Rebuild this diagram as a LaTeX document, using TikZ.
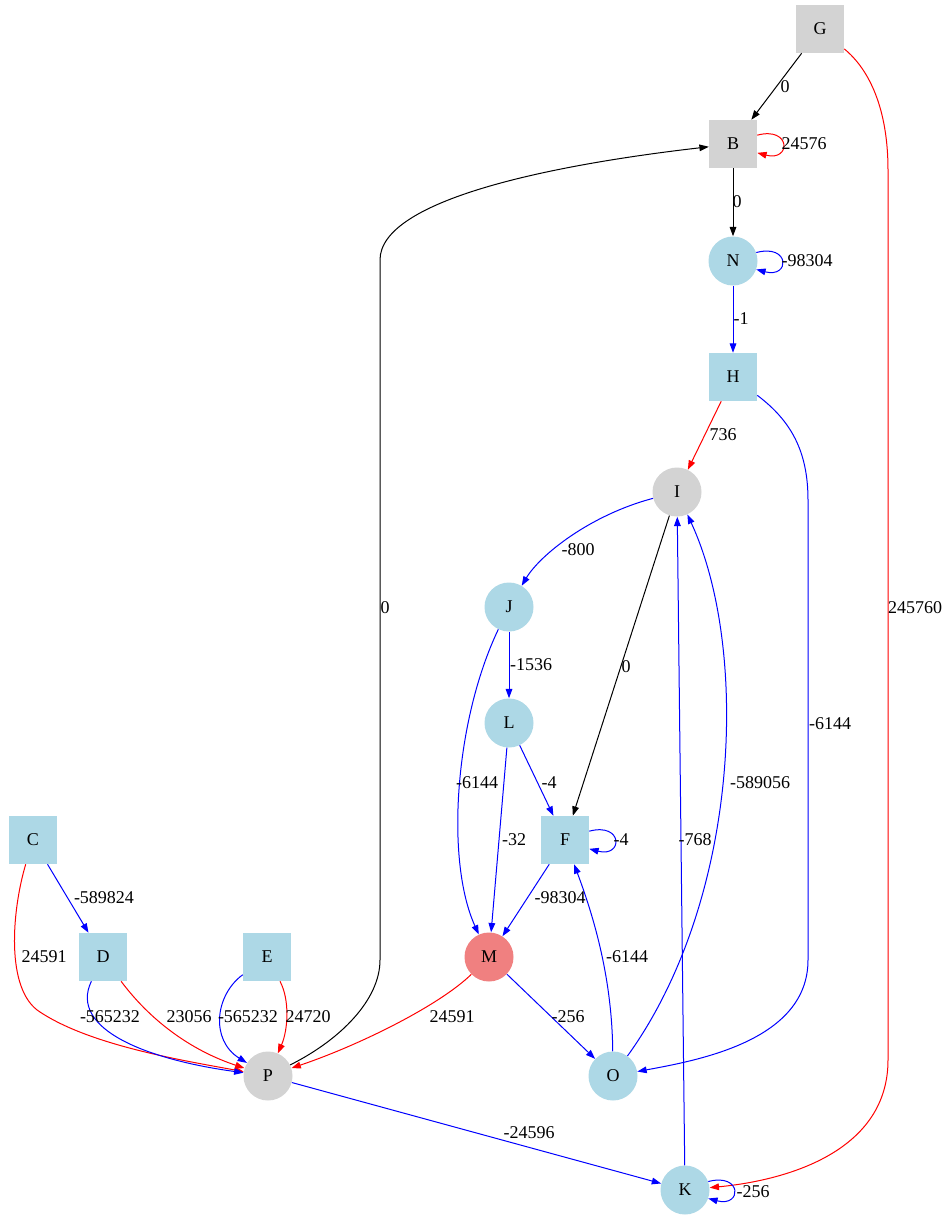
\documentclass[tikz,border=0pt]{standalone}
\usepackage{fontspec}
\setmainfont{Liberation Serif}
\usepackage{tikz}
\usetikzlibrary{arrows.meta}

\definecolor{nblue}{RGB}{173,216,230}
\definecolor{ngray}{RGB}{211,211,211}
\definecolor{ncoral}{RGB}{240,128,128}

\tikzset{
    sq/.style={rectangle, minimum size=36pt, inner sep=0pt, font=\fontsize{13.5}{16}\selectfont},
    rd/.style={circle, minimum size=36.75pt, inner sep=0pt, font=\fontsize{13.5}{16}\selectfont},
    lbl/.style={inner sep=0pt, font=\fontsize{13.5}{16}\selectfont},
    edge/.style={line width=0.75pt, -{Triangle[length=7pt,width=5pt]}},
    bedge/.style={edge, blue},
    redge/.style={edge, red},
    kedge/.style={edge, black}
}

\begin{document}
\begin{tikzpicture}[x=0.75pt, y=-0.75pt]
    \useasboundingbox (0,0) rectangle (949,1221);
    \fill[white] (0,0) rectangle (949,1221);

    \node[sq, fill=ngray] (G) at (820,29) {G};
    \node[sq, fill=ngray] (B) at (733,144) {B};
    \node[rd, fill=nblue] (N) at (733,261) {N};
    \node[sq, fill=nblue] (H) at (733,377) {H};
    \node[rd, fill=ngray] (I) at (677,492) {I};
    \node[rd, fill=nblue] (J) at (509,607) {J};
    \node[rd, fill=nblue] (L) at (509,723) {L};
    \node[sq, fill=nblue] (F) at (565,840) {F};
    \node[sq, fill=nblue] (C) at (33,840) {C};
    \node[sq, fill=nblue] (D) at (103,957) {D};
    \node[sq, fill=nblue] (E) at (267,957) {E};
    \node[rd, fill=ncoral] (M) at (489,957) {M};
    \node[rd, fill=ngray] (P) at (268,1076) {P};
    \node[rd, fill=nblue] (O) at (613,1076) {O};
    \node[rd, fill=nblue] (K) at (685,1190) {K};

    \draw[kedge] (G) -- (B);
    \draw[redge] (G) .. controls (870,70) and (888,110) .. (888,170) -- (888,1060) .. controls (888,1150) and (790,1180) .. (K);
    \draw[redge] (B.20) .. controls +(34,-9) and +(34,9) .. (B.-20);
    \draw[kedge] (B) -- (N);
    \draw[bedge] (N.20) .. controls +(34,-9) and +(34,9) .. (N.-20);
    \draw[bedge] (N) -- (H);
    \draw[redge] (H) -- (I);
    \draw[bedge] (H) .. controls (790,420) and (808,450) .. (808,500) -- (808,960) .. controls (808,1040) and (700,1060) .. (O);
    \draw[bedge] (I) .. controls (590,515) and (540,555) .. (J);
    \draw[kedge] (I) -- (F);
    \draw[bedge] (J) -- (L);
    \draw[bedge] (J) .. controls (455,720) and (445,860) .. (M);
    \draw[bedge] (L) -- (F);
    \draw[bedge] (L) -- (M);
    \draw[bedge] (F.20) .. controls +(34,-9) and +(34,9) .. (F.-20);
    \draw[bedge] (F) -- (M);
    \draw[bedge] (O) .. controls (612,980) and (595,920) .. (F);
    \draw[bedge] (O) .. controls (740,900) and (750,650) .. (I);
    \draw[bedge] (K) -- (I);
    \draw[bedge] (K.20) .. controls +(34,-9) and +(34,9) .. (K.-20);
    \draw[bedge] (M) -- (O);
    \draw[redge] (M) .. controls (440,1005) and (360,1045) .. (P);
    \draw[kedge] (P) .. controls (340,1040) and (380,1000) .. (380,960) -- (380,260) .. controls (380,200) and (550,165) .. (B);
    \draw[bedge] (P) -- (K);
    \draw[bedge] (C) -- (D);
    \draw[redge] (C) .. controls (12,910) and (5,990) .. (40,1012) .. controls (90,1045) and (180,1060) .. (P);
    \draw[bedge] (D) .. controls (68,1030) and (150,1060) .. (P);
    \draw[redge] (D) .. controls (150,1020) and (190,1050) .. (P);
    \draw[bedge] (E) .. controls (215,995) and (210,1040) .. (P);
    \draw[redge] (E) .. controls (290,1000) and (288,1030) .. (P);

    \node[lbl] (lGB) at (785,87) {0};
    \node[lbl] (lGK) at (915,608) {245760};
    \node[lbl] (lBB) at (804,144) {24576};
    \node[lbl] (lBN) at (737,202) {0};
    \node[lbl] (lNN) at (807,261) {-98304};
    \node[lbl] (lNH) at (741,319) {-1};
    \node[lbl] (lHI) at (723,435) {736};
    \node[lbl] (lHO) at (830,724) {-6144};
    \node[lbl] (lIJ) at (578,550) {-800};
    \node[lbl] (lIF) at (626,667) {0};
    \node[lbl] (lJL) at (531,665) {-1536};
    \node[lbl] (lJM) at (477,783) {-6144};
    \node[lbl] (lLF) at (549,783) {-4};
    \node[lbl] (lLM) at (514,840) {-32};
    \node[lbl] (lFF) at (621,840) {-4};
    \node[lbl] (lFM) at (560,898) {-98304};
    \node[lbl] (lOF) at (627,957) {-6144};
    \node[lbl] (lOI) at (760,783) {-589056};
    \node[lbl] (lKI) at (695,840) {-768};
    \node[lbl] (lKK) at (753,1192) {-256};
    \node[lbl] (lMO) at (568,1017) {-256};
    \node[lbl] (lMP) at (452,1017) {24591};
    \node[lbl] (lPB) at (385,608) {0};
    \node[lbl] (lPK) at (529,1133) {-24596};
    \node[lbl] (lCD) at (104,898) {-589824};
    \node[lbl] (lCP) at (44,957) {24591};
    \node[lbl] (lDPb) at (110,1017) {-565232};
    \node[lbl] (lDPr) at (189,1017) {23056};
    \node[lbl] (lEPb) at (248,1017) {-565232};
    \node[lbl] (lEPr) at (308,1017) {24720};
\end{tikzpicture}
\end{document}
